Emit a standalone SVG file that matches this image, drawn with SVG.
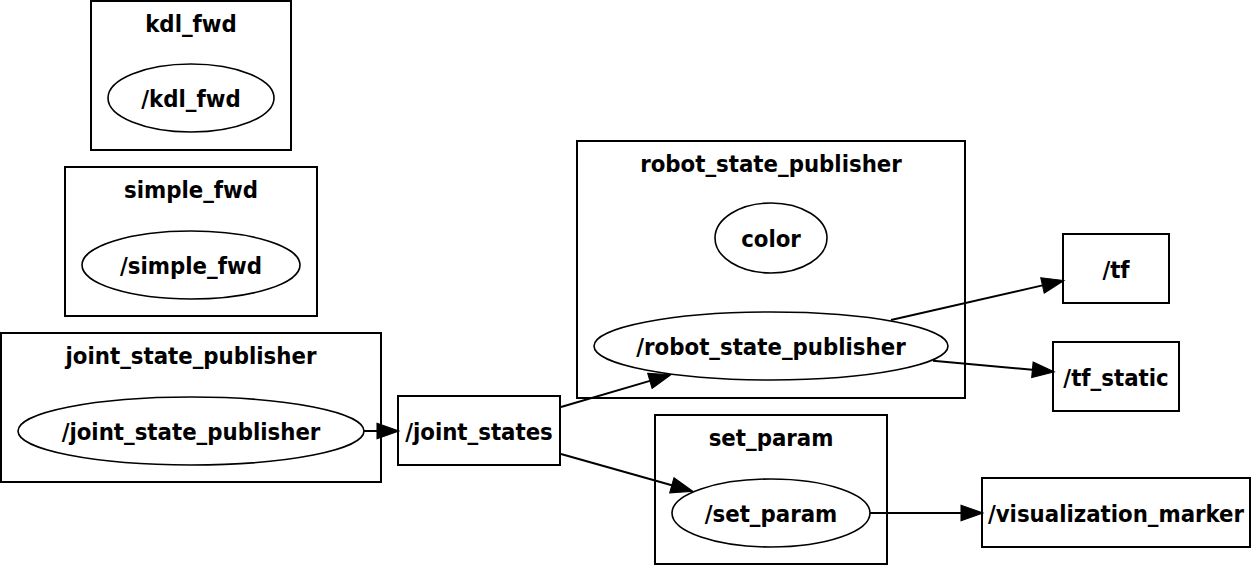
<svg xmlns="http://www.w3.org/2000/svg" width="1252" height="566" viewBox="0 0 1252 566">
<style>
.box{fill:none;stroke:#000;stroke-width:2}
.ell{fill:none;stroke:#000;stroke-width:1.6}
.edge{fill:none;stroke:#000;stroke-width:2}
text{font-family:"DejaVu Sans Condensed","DejaVu Sans",sans-serif;font-stretch:condensed;font-weight:bold;font-size:23.7px;fill:#000;text-anchor:middle}
</style>
<defs>
<marker id="arr" markerUnits="userSpaceOnUse" markerWidth="23" markerHeight="17" refX="0" refY="7.5" orient="auto" viewBox="0 0 22 15" overflow="visible">
<path d="M0,0 L21,7.5 L0,15 z" fill="#000" stroke="#000" stroke-width="1"/>
</marker>
</defs>
<rect width="1252" height="566" fill="#fff"/>
<g id="cluster_kdl_fwd">
<rect class="box" x="91" y="1" width="200" height="149"/>
<text x="191" y="32">kdl_fwd</text>
</g>
<g id="node_kdl_fwd">
<ellipse class="ell" cx="191" cy="98" rx="83" ry="34"/>
<text x="191" y="107">/kdl_fwd</text>
</g>
<g id="cluster_simple_fwd">
<rect class="box" x="65" y="167" width="252" height="149"/>
<text x="191" y="198">simple_fwd</text>
</g>
<g id="node_simple_fwd">
<ellipse class="ell" cx="191" cy="265" rx="109" ry="34"/>
<text x="191" y="274">/simple_fwd</text>
</g>
<g id="cluster_joint_state_publisher">
<rect class="box" x="1" y="333" width="380" height="149"/>
<text x="191" y="364">joint_state_publisher</text>
</g>
<g id="node_joint_state_publisher">
<ellipse class="ell" cx="191" cy="431" rx="173" ry="34"/>
<text x="191" y="440">/joint_state_publisher</text>
</g>
<g id="topic_joint_states">
<rect class="box" x="398" y="396" width="162" height="69"/>
<text x="479" y="440">/joint_states</text>
</g>
<g id="cluster_robot_state_publisher">
<rect class="box" x="577" y="141" width="388" height="257"/>
<text x="771" y="172">robot_state_publisher</text>
</g>
<g id="node_color">
<ellipse class="ell" cx="771" cy="238" rx="56" ry="35"/>
<text x="771" y="247">color</text>
</g>
<g id="node_robot_state_publisher">
<ellipse class="ell" cx="771" cy="346" rx="177" ry="34"/>
<text x="771" y="355">/robot_state_publisher</text>
</g>
<g id="cluster_set_param">
<rect class="box" x="655" y="415" width="232" height="149"/>
<text x="771" y="446">set_param</text>
</g>
<g id="node_set_param">
<ellipse class="ell" cx="771" cy="513" rx="99" ry="34"/>
<text x="771" y="522">/set_param</text>
</g>
<g id="topic_tf">
<rect class="box" x="1063" y="234" width="106" height="69"/>
<text x="1116" y="278">/tf</text>
</g>
<g id="topic_tf_static">
<rect class="box" x="1053" y="342" width="126" height="69"/>
<text x="1116" y="386">/tf_static</text>
</g>
<g id="topic_visualization_marker">
<rect class="box" x="982" y="478" width="268" height="69"/>
<text x="1116" y="522">/visualization_marker</text>
</g>
<g id="connectors">
<line class="edge" x1="364" y1="431" x2="377" y2="431" marker-end="url(#arr)"/>
<line class="edge" x1="561" y1="407" x2="649.9" y2="380.9" marker-end="url(#arr)"/>
<line class="edge" x1="561" y1="454" x2="671.8" y2="485.3" marker-end="url(#arr)"/>
<line class="edge" x1="891" y1="320" x2="1042.5" y2="285.4" marker-end="url(#arr)"/>
<line class="edge" x1="933" y1="360.7" x2="1032.4" y2="369.8" marker-end="url(#arr)"/>
<line class="edge" x1="870" y1="513" x2="961" y2="513" marker-end="url(#arr)"/>
</g>
</svg>
